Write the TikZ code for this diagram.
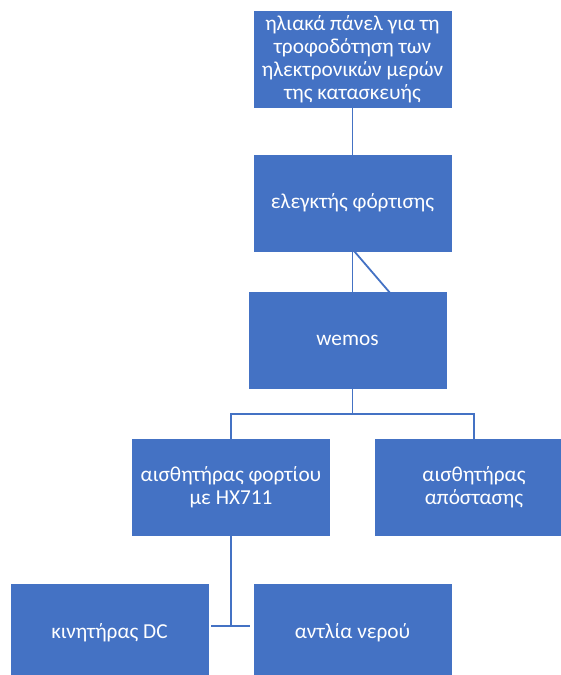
\documentclass[tikz,border=0pt]{standalone}
\usepackage{fontspec}
\setmainfont{Carlito}
\usetikzlibrary{positioning}

\definecolor{officeblue}{HTML}{4472C4}

\begin{document}
\begin{tikzpicture}[
  x=1pt, y=-1pt,
  font=\fontsize{21.3}{22.8}\selectfont,
  link/.style={draw=officeblue, line width=1.8pt},
  blkbox/.style={fill=officeblue, draw=white, line width=0.6pt, text=white,
    align=center, minimum width=199pt, minimum height=98pt, inner sep=2pt}
]
\useasboundingbox (0,0) rectangle (561,675);

% Top: power source
\node[blkbox, anchor=north] (panel) at (352.5,10) {
  ηλιακά πάνελ για τη\\
  τροφοδότηση των\\
  ηλεκτρονικών μερών\\
  της κατασκευής
};

% Charge controller
\node[blkbox, below=45pt of panel] (charger) {ελεγκτής φόρτισης};

% Board
\node[blkbox, below=39pt of charger, xshift=-5pt] (wemos) {wemos};

% Sensors
\node[blkbox, anchor=north] (loadcell) at (231,438) {αισθητήρας φορτίου\\με HX711};
\node[blkbox, anchor=north] (distance) at (474,438) {αισθητήρας\\απόστασης};

% Actuators
\node[blkbox, anchor=north] (motor) at (109.5,583) {κινητήρας DC};
\node[blkbox, anchor=north] (pump) at (352.5,583) {αντλία νερού};

% Connectors
\draw[link] ([yshift=3pt]panel.south) -- ([yshift=-3pt]charger.north);

\draw[link] ([yshift=3pt]charger.south) -- ([xshift=5pt,yshift=-4pt]wemos.north);
\draw[link] ([yshift=3pt]charger.south) -- ([xshift=44.5pt,yshift=-4pt]wemos.north);

\draw[link] ([xshift=5pt,yshift=2pt]wemos.south) -- ++(0,26) -| ([yshift=-3pt]loadcell.north);
\draw[link] ([xshift=5pt,yshift=2pt]wemos.south) -- ++(0,26) -| ([yshift=-3pt]distance.north);

\draw[link] ([yshift=3pt]loadcell.south) -- ([yshift=6pt]loadcell.south |- motor.east);
\draw[link] ([xshift=2pt,yshift=6pt]motor.east) -- ([xshift=-3pt,yshift=6pt]pump.west);

\end{tikzpicture}
\end{document}
